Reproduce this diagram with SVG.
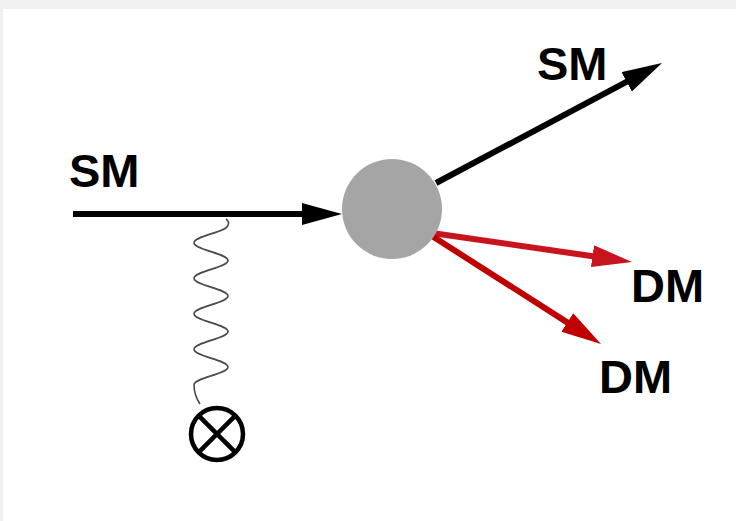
<svg xmlns="http://www.w3.org/2000/svg" width="736" height="521" viewBox="0 0 736 521">
  <style>
    .lbl { font-family: "Liberation Sans", Arial, sans-serif; font-weight: bold; font-size: 47px; fill: #000; }
    .shaft { stroke-width: 6; fill: none; stroke-linecap: butt; }
  </style>
  <defs>
    <marker id="headBlack" markerUnits="userSpaceOnUse" markerWidth="42" markerHeight="24" refX="4" refY="11" orient="auto">
      <path d="M0,0 L40,11 L0,22 z" fill="#000"/>
    </marker>
    <marker id="headRed1" markerUnits="userSpaceOnUse" markerWidth="42" markerHeight="24" refX="4" refY="11" orient="auto">
      <path d="M0,0 L40,11 L0,22 z" fill="#c8141e"/>
    </marker>
    <marker id="headRed2" markerUnits="userSpaceOnUse" markerWidth="42" markerHeight="24" refX="4" refY="11" orient="auto">
      <path d="M0,0 L40,11 L0,22 z" fill="#c00000"/>
    </marker>
  </defs>

  <!-- page background -->
  <rect x="0" y="0" width="736" height="521" fill="#f0f0f0"/>
  <rect x="3" y="9" width="733" height="512" fill="#ffffff"/>

  <g id="connectors">
    <!-- incoming SM line -->
    <line class="shaft" x1="73" y1="214" x2="306" y2="214" stroke="#000" marker-end="url(#headBlack)"/>
    <!-- outgoing SM -->
    <line class="shaft" x1="436" y1="183" x2="630.2" y2="79.9" stroke="#000" marker-end="url(#headBlack)"/>
    <!-- outgoing DM pair -->
    <line class="shaft" x1="432" y1="233" x2="596.4" y2="256.8" stroke="#c8141e" marker-end="url(#headRed1)"/>
    <line class="shaft" x1="432" y1="236" x2="570.7" y2="324.6" stroke="#c00000" marker-end="url(#headRed2)"/>
    <!-- wavy mediator line -->
    <path d="M226,219 C229,221 229,223 228,225
             C228,232 194,235.75 194,242.75
             C194,249.75 228,253.5 228,260.5
             C228,267.5 194,271.25 194,278.25
             C194,285.25 228,289 228,296
             C228,303 194,306.75 194,313.75
             C194,320.75 228,324.5 228,331.5
             C228,338.5 194,342.25 194,349.25
             C194,356.25 228,360 228,367
             C228,374 194,377.75 194,384.75
             C194,392 196,398 200,404"
          fill="none" stroke="#4a4a4a" stroke-width="1.6"/>
  </g>

  <g id="vertex">
    <circle cx="392" cy="209" r="50" fill="#a5a5a5"/>
  </g>

  <g id="source">
    <circle cx="217" cy="434" r="26" fill="#fff" stroke="#000" stroke-width="4.5"/>
    <line x1="198.6" y1="415.6" x2="235.4" y2="452.4" stroke="#000" stroke-width="4.5"/>
    <line x1="235.4" y1="415.6" x2="198.6" y2="452.4" stroke="#000" stroke-width="4.5"/>
  </g>

  <g id="label-sm-in"><text class="lbl" x="69" y="187">SM</text></g>
  <g id="label-sm-out"><text class="lbl" x="537" y="80">SM</text></g>
  <g id="label-dm-1"><text class="lbl" x="631" y="302">DM</text></g>
  <g id="label-dm-2"><text class="lbl" x="599" y="393">DM</text></g>
</svg>
